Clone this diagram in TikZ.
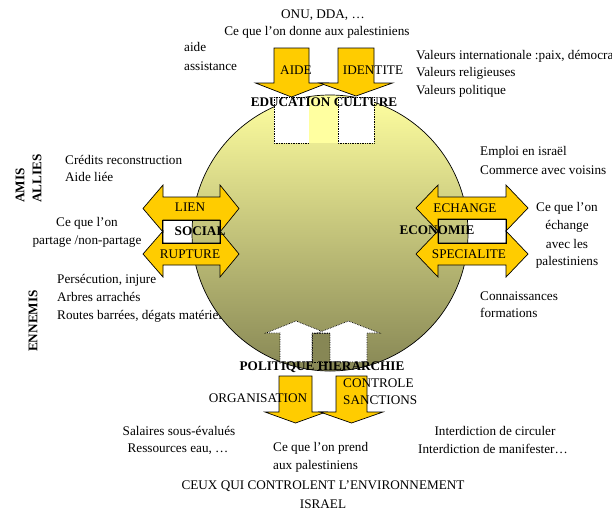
\documentclass[tikz,border=0pt]{standalone}
\usepackage{fontspec}
\setmainfont{Liberation Serif}
\definecolor{agold}{RGB}{255,204,0}
\definecolor{apale}{RGB}{255,255,160}
\definecolor{amid}{RGB}{205,205,125}
\definecolor{aolive}{RGB}{135,135,85}
\newcommand{\vtarr}[7]{% style, centre x, half shaft, shaft end, head base, half head, tip
  \draw[#1] (#2-#3,#4) -- (#2+#3,#4) -- (#2+#3,#5) -- (#2+#6,#5) -- (#2,#7)
    -- (#2-#6,#5) -- (#2-#3,#5) -- cycle;}
\newcommand{\hzarr}[7]{% centre y, left tip, left base, right base, right tip, half shaft, half head
  \draw[garr] (#2,#1) -- (#3,#1-#7) -- (#3,#1-#6) -- (#4,#1-#6) -- (#4,#1-#7) -- (#5,#1)
    -- (#4,#1+#7) -- (#4,#1+#6) -- (#3,#1+#6) -- (#3,#1+#7) -- cycle;}
\tikzset{
  garr/.style={fill=agold, draw=black, line width=0.7pt, line join=miter},
  warr/.style={fill=white, draw=black, densely dotted, line width=0.7pt},
  hole/.style={draw=black, line width=0.7pt},
  lbl/.style={font=\fontsize{13.2}{15}\selectfont, inner sep=0pt},
  blbl/.style={font=\fontsize{13.2}{15}\selectfont\bfseries, inner sep=0pt},
}
\begin{document}
\begin{tikzpicture}[x=1pt,y=-1pt]
  \useasboundingbox (0,0) rectangle (612,528);
  % text partly hidden by the sphere
  \node[lbl, anchor=west] (routes) at (57,316) {Routes barrées, dégats matériels};
  % sphere
  \shade[draw=black, line width=0.7pt, top color=apale, middle color=amid, bottom color=aolive]
    (330,233) circle (138);
  % openings at the top and at the bottom
  \draw[warr] (274,97) rectangle (309,143);
  \draw[warr] (338,97) rectangle (374,143);
  \fill[apale] (309,97) rectangle (338,143);
  \draw[warr, fill=aolive] (312,333) rectangle (330,362);
  \vtarr{warr}{296}{16}{362}{333}{30}{321}
  \vtarr{warr}{348.5}{18.5}{362}{333}{31}{321}
  % arrows in and out
  \vtarr{garr}{291.5}{17.5}{48}{83}{36}{97}
  \vtarr{garr}{356}{18}{48}{83}{36.5}{96}
  \vtarr{garr}{295.5}{16.5}{376}{412}{30.5}{423}
  \vtarr{garr}{351.5}{15.5}{376}{412}{31.5}{423}
  \hzarr{208.5}{143}{163}{220}{239}{11.5}{23.5}
  \hzarr{254}{143}{163}{220}{239}{11}{23}
  \hzarr{208}{416}{438}{506}{528}{11}{23}
  \hzarr{254}{416}{438}{506}{528}{11}{23}
  \draw[hole] (162,220) rectangle (220,243);
  \draw[hole] (438,219) rectangle (506,243);
  % top
  \node[lbl] (onu) at (323,15) {ONU, DDA, …};
  \node[lbl] (donne) at (317,32) {Ce que l’on donne aux palestiniens};
  \node[lbl, anchor=west] (aide) at (184,47) {aide};
  \node[lbl, anchor=west] (assist) at (184,66) {assistance};
  \node[lbl] (aidelbl) at (296,70) {AIDE};
  \node[lbl] (identlbl) at (373,70) {IDENTITE};
  \node[blbl] (educ) at (324,102) {EDUCATION CULTURE};
  \node[lbl, anchor=west] (valint) at (416,56) {Valeurs internationale :paix, démocratie};
  \node[lbl, anchor=west] (valrel) at (416,73) {Valeurs religieuses};
  \node[lbl, anchor=west] (valpol) at (416,91) {Valeurs politique};
  % left
  \node[blbl, rotate=90, anchor=west] (amis) at (20,203) {AMIS};
  \node[blbl, rotate=90, anchor=west] (allies) at (37,203) {ALLIES};
  \node[blbl, rotate=90] (ennemis) at (33,321) {ENNEMIS};
  \node[lbl, anchor=west] (credits) at (65,160) {Crédits reconstruction};
  \node[lbl, anchor=west] (liee) at (65,177) {Aide liée};
  \node[lbl] (partage1) at (87,223) {Ce que l’on};
  \node[lbl] (partage2) at (87,242) {partage /non-partage};
  \node[lbl, anchor=west] (persec) at (57,280) {Persécution, injure};
  \node[lbl, anchor=west] (arbres) at (57,297) {Arbres arrachés};
  \node[lbl] (lien) at (190,207) {LIEN};
  \node[lbl] (rupture) at (190,254) {RUPTURE};
  \node[blbl] (social) at (200,231) {SOCIAL};
  % right
  \node[lbl, anchor=west] (emploi) at (480,152) {Emploi en israël};
  \node[lbl, anchor=west] (commerce) at (480,170) {Commerce avec voisins};
  \node[lbl] (echange1) at (567,208) {Ce que l’on};
  \node[lbl] (echange2) at (567,226) {échange};
  \node[lbl] (echange3) at (567,244) {avec les};
  \node[lbl] (echange4) at (567,262) {palestiniens};
  \node[lbl, anchor=west] (connais) at (480,296) {Connaissances};
  \node[lbl, anchor=west] (formations) at (480,313) {formations};
  \node[lbl] (echange) at (465,208) {ECHANGE};
  \node[lbl] (special) at (469,254) {SPECIALITE};
  \node[blbl] (economie) at (437,230) {ECONOMIE};
  % bottom
  \node[blbl] (politique) at (322,367) {POLITIQUE HIERARCHIE};
  \node[lbl] (organis) at (258,398) {ORGANISATION};
  \node[lbl, anchor=west] (controle) at (343,383) {CONTROLE};
  \node[lbl, anchor=west] (sanctions) at (343,400) {SANCTIONS};
  \node[lbl] (salaires) at (179,431) {Salaires sous-évalués};
  \node[lbl] (ressources) at (178,449) {Ressources eau, …};
  \node[lbl, anchor=west] (prend1) at (273,448) {Ce que l’on prend};
  \node[lbl, anchor=west] (prend2) at (273,466) {aux palestiniens};
  \node[lbl] (circuler) at (495,431) {Interdiction de circuler};
  \node[lbl] (manif) at (493,449) {Interdiction de manifester…};
  \node[lbl] (ceux) at (323,486) {CEUX QUI CONTROLENT L’ENVIRONNEMENT};
  \node[lbl] (israel) at (323,504) {ISRAEL};
\end{tikzpicture}
\end{document}
